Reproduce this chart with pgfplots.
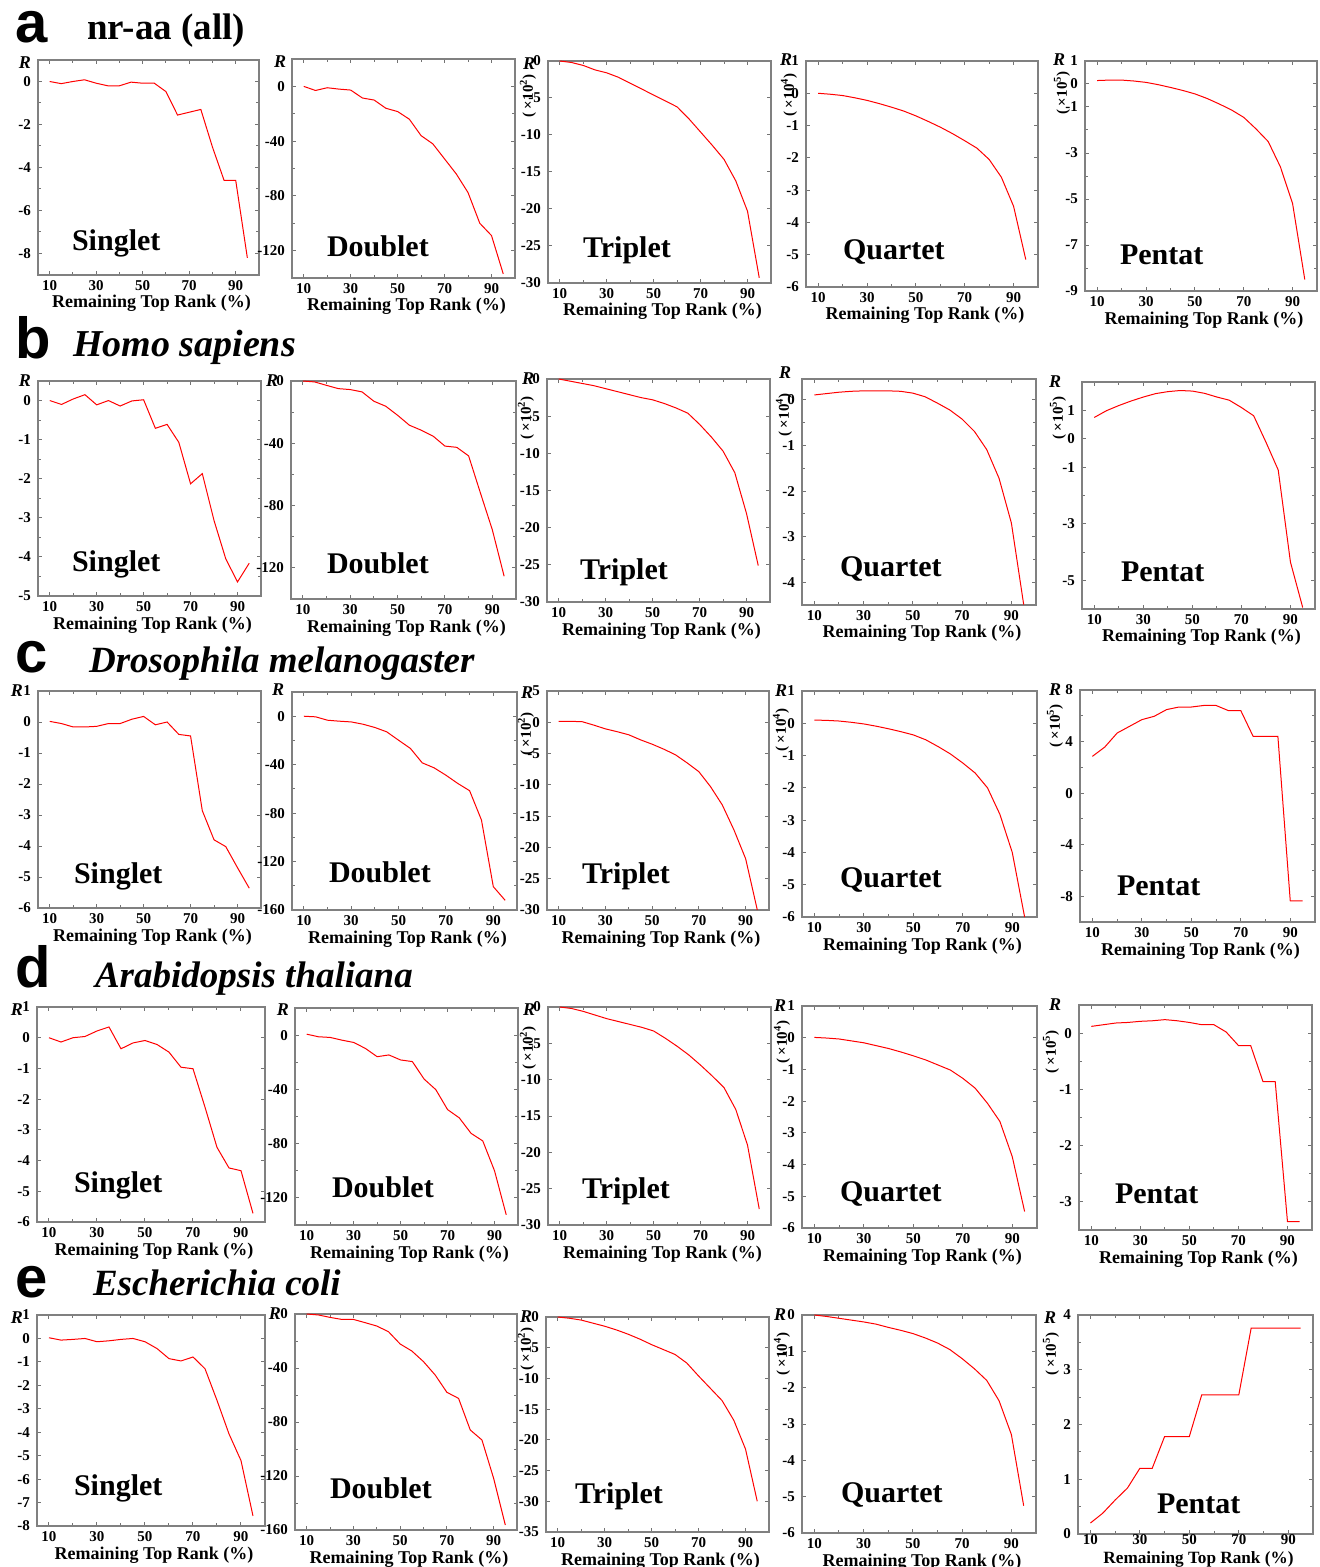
\documentclass[border=0pt]{standalone}
\usepackage{fontspec}
\setmainfont{Liberation Serif}
\newfontfamily\sanslab{Liberation Sans}
\usepackage{graphicx}
\usepackage{pgfplots}
\pgfplotsset{compat=1.18}
\usetikzlibrary{calc}

\newcommand\fs[1]{\fontsize{#1}{#1}\selectfont}
% R at top left of the y axis: #1 = shift left (pt), #2 = shift up (pt)
\newcommand\Rlab[2]{\node[font=\bfseries\itshape\fs{9}] at ($(rel axis cs:0,1)+(-#1pt,#2pt)$) {R};}
% scale note: #1 = shift left, #2 = distance below the top (pt), #3 = exponent
\newcommand\Xlab[3]{\node[font=\bfseries\fs{7.5},inner sep=0pt] at ($(rel axis cs:0,1)+(-#1pt,-#2pt)$) {\rotatebox{90}{( ×10\textsuperscript{#3})}};}
\newcommand\Name[3]{\node[font=\bfseries\fs{15},anchor=base west] at ($(rel axis cs:0,0)+(#2pt,#3pt)$) {#1};}
\newcommand\Xl[1][16.5]{\node[font=\bfseries\fs{9},anchor=base] at ($(rel axis cs:0.5,0)+(1.5pt,-#1pt)$) {Remaining Top Rank (\%)};}

\pgfplotsset{
  pan/.style={
    scale only axis, anchor=north west, clip=false,
    xmin=5, xmax=100, xtick={10,30,50,70,90}, minor x tick num=1,
    tick align=inside, major tick length=2pt, minor tick length=1.3pt,
    axis line style={draw=black!50, line width=0.7pt},
    every tick/.style={draw=black!55, line width=0.5pt},
    tick label style={font=\bfseries\fs{7.5}},
    xticklabel style={yshift=0.8pt},
    /pgf/number format/assume math mode=true,
    scaled y ticks=false,
  },
  ln/.style={red, line width=0.5pt, mark=none},
}

\begin{document}
\begin{tikzpicture}
\useasboundingbox (0,0) rectangle (659.5pt,-783.5pt);

% ---------------- row titles
\node[font=\sanslab\bfseries\fs{29},anchor=base west] at (4pt,-21.5pt) {a};
\node[font=\bfseries\fs{18.5},anchor=base west] at (40pt,-20pt) {nr-aa (all)};
\node[font=\sanslab\bfseries\fs{29},anchor=base west] at (4pt,-179pt) {b};
\node[font=\bfseries\itshape\fs{19},anchor=base west] at (33pt,-178.5pt) {Homo sapiens};
\node[font=\sanslab\bfseries\fs{29},anchor=base west] at (4pt,-336pt) {c};
\node[font=\bfseries\itshape\fs{18.5},anchor=base west] at (41pt,-336pt) {Drosophila melanogaster};
\node[font=\sanslab\bfseries\fs{29},anchor=base west] at (4pt,-493.5pt) {d};
\node[font=\bfseries\itshape\fs{18.5},anchor=base west] at (44pt,-493.5pt) {Arabidopsis thaliana};
\node[font=\sanslab\bfseries\fs{29},anchor=base west] at (4pt,-648.5pt) {e};
\node[font=\bfseries\itshape\fs{18.5},anchor=base west] at (43pt,-647.5pt) {Escherichia coli};

% ================= row a: nr-aa (all)
\begin{axis}[pan, at={(19pt,-30pt)}, width=110.5pt, height=107.5pt,
  ymin=-9, ymax=1, ytick={-8,-6,-4,-2,0}, minor y tick num=1]
\addplot[ln] coordinates {(10,0)(15,-0.1)(20,0)(25,0.08)(30,-0.08)(35,-0.2)(40,-0.2)(45,-0.03)(50,-0.08)(55,-0.08)(60,-0.47)(65,-1.56)(70,-1.43)(75,-1.3)(80,-3.05)(85,-4.6)(90,-4.6)(95,-8.2)};
\Rlab{6.5}{-1.5}\Name{Singlet}{13.5}{12}\Xl
\end{axis}
\begin{axis}[pan, at={(146pt,-29.5pt)}, width=111.5pt, height=109.5pt,
  ymin=-140, ymax=20, ytick={-120,-80,-40,0}, minor y tick num=1]
\addplot[ln] coordinates {(10,0)(15,-3)(20,-1)(25,-2)(30,-2.7)(35,-8.5)(40,-10)(45,-16)(50,-18.4)(55,-24)(60,-36)(65,-42)(70,-53)(75,-64)(80,-77.6)(85,-100)(90,-109)(95,-137)};
\Rlab{6}{-1.5}\Name{Doublet}{14}{10.5}\Xl
\end{axis}
\begin{axis}[pan, at={(274pt,-30.5pt)}, width=111.5pt, height=111pt,
  ymin=-30, ymax=0, ytick={-30,-25,-20,-15,-10,-5,0}]
\addplot[ln] coordinates {(10,0)(15,-0.2)(20,-0.6)(25,-1.2)(30,-1.6)(35,-2.2)(40,-3)(45,-3.8)(50,-4.6)(55,-5.4)(60,-6.2)(65,-7.8)(70,-9.6)(75,-11.4)(80,-13.3)(85,-16.2)(90,-20.3)(95,-29.3)};
\Rlab{9.5}{-1.5}\Xlab{10}{17.5}{2}\Name{Triplet}{14}{12.5}\Xl
\end{axis}
\begin{axis}[pan, at={(403pt,-30.5pt)}, width=116pt, height=113pt,
  ymin=-6, ymax=1, ytick={-6,-5,-4,-3,-2,-1,0,1}]
\addplot[ln] coordinates {(10,0)(15,-0.03)(20,-0.07)(25,-0.14)(30,-0.22)(35,-0.32)(40,-0.43)(45,-0.55)(50,-0.7)(55,-0.87)(60,-1.05)(65,-1.25)(70,-1.47)(75,-1.7)(80,-2.05)(85,-2.6)(90,-3.5)(95,-5.15)};
\Rlab{10}{0.5}\Xlab{8.5}{17}{4}\Name{Quartet}{15}{13.5}\Xl
\end{axis}
\begin{axis}[pan, at={(542.5pt,-30.5pt)}, width=116pt, height=115pt,
  ymin=-9, ymax=1, ytick={-9,-7,-5,-3,-1,0,1}, minor ytick={-8,-6,-4,-2}]
\addplot[ln] coordinates {(10,0.15)(15,0.17)(20,0.17)(25,0.13)(30,0.07)(35,-0.03)(40,-0.15)(45,-0.28)(50,-0.43)(55,-0.63)(60,-0.87)(65,-1.13)(70,-1.45)(75,-1.95)(80,-2.5)(85,-3.6)(90,-5.2)(95,-8.5)};
\Rlab{13}{0.5}\Xlab{11.5}{16}{5}\Name{Pentat}{14}{13.5}\Xl
\end{axis}

% ================= row b: Homo sapiens
\begin{axis}[pan, at={(19pt,-190.5pt)}, width=111.5pt, height=107.5pt,
  ymin=-5, ymax=0.5, ytick={-5,-4,-3,-2,-1,0}, minor y tick num=1]
\addplot[ln] coordinates {(10,0)(15,-0.1)(20,0.04)(25,0.15)(30,-0.11)(35,0)(40,-0.14)(45,-0.01)(50,0.02)(55,-0.71)(60,-0.61)(65,-1.07)(70,-2.13)(75,-1.87)(80,-3.07)(85,-4.05)(90,-4.64)(95,-4.16)};
\Rlab{6.5}{0}\Name{Singlet}{13.5}{12}\Xl
\end{axis}
\begin{axis}[pan, at={(145.5pt,-190.5pt)}, width=112.5pt, height=109pt,
  ymin=-140, ymax=0, ytick={-120,-80,-40,0}, minor y tick num=1]
\addplot[ln] coordinates {(10,0)(15,-0.6)(20,-2.8)(25,-4.9)(30,-5.5)(35,-7)(40,-13)(45,-16.2)(50,-22)(55,-28.4)(60,-31.6)(65,-35.4)(70,-41.8)(75,-42.6)(80,-48.1)(85,-72)(90,-95.5)(95,-125.4)};
\Rlab{9.5}{0}\Name{Doublet}{14.5}{13}\Xl
\end{axis}
\begin{axis}[pan, at={(273.5pt,-189.5pt)}, width=111.5pt, height=111.5pt,
  ymin=-30, ymax=0, ytick={-30,-25,-20,-15,-10,-5,0}]
\addplot[ln] coordinates {(10,0)(15,-0.3)(20,-0.6)(25,-0.9)(30,-1.3)(35,-1.7)(40,-2.1)(45,-2.5)(50,-2.8)(55,-3.3)(60,-3.9)(65,-4.6)(70,-6.1)(75,-7.8)(80,-9.7)(85,-12.6)(90,-18.1)(95,-25.1)};
\Rlab{9.5}{0}\Xlab{10.5}{19.5}{2}\Name{Triplet}{13}{11}\Xl
\end{axis}
\begin{axis}[pan, at={(401pt,-189.5pt)}, width=117pt, height=113pt,
  ymin=-4.5, ymax=0.46, ytick={-4,-3,-2,-1,0}, minor y tick num=1]
\addplot[ln] coordinates {(10,0.11)(15,0.14)(20,0.17)(25,0.19)(30,0.2)(35,0.2)(40,0.2)(45,0.19)(50,0.15)(55,0.07)(60,-0.07)(65,-0.22)(70,-0.42)(75,-0.69)(80,-1.09)(85,-1.72)(90,-2.7)(95,-4.49)};
\Rlab{8.5}{3}\Xlab{9}{18}{4}\Name{Quartet}{15.5}{14}\Xl
\end{axis}
\begin{axis}[pan, at={(541pt,-191pt)}, width=116.5pt, height=113.5pt,
  ymin=-6, ymax=2, ytick={-5,-3,-1,0,1}, minor ytick={-4,-2}]
\addplot[ln] coordinates {(10,0.75)(15,0.99)(20,1.17)(25,1.33)(30,1.47)(35,1.59)(40,1.66)(45,1.7)(50,1.68)(55,1.6)(60,1.47)(65,1.36)(70,1.1)(75,0.81)(80,-0.12)(85,-1.1)(90,-4.35)(95,-5.95)};
\Rlab{13.5}{0}\Xlab{12}{18}{5}\Name{Pentat}{16}{13.5}\Xl
\end{axis}

% ================= row c: Drosophila melanogaster
\begin{axis}[pan, at={(19pt,-345.5pt)}, width=111.5pt, height=108.5pt,
  ymin=-6, ymax=1, ytick={-6,-5,-4,-3,-2,-1,0,1}]
\addplot[ln] coordinates {(10,0.02)(15,-0.05)(20,-0.16)(25,-0.16)(30,-0.14)(35,-0.05)(40,-0.05)(45,0.09)(50,0.18)(55,-0.09)(60,0)(65,-0.4)(70,-0.45)(75,-2.86)(80,-3.8)(85,-4.02)(90,-4.7)(95,-5.36)};
\Rlab{10.5}{0}\Name{Singlet}{14.5}{12.5}\Xl
\end{axis}
\begin{axis}[pan, at={(146pt,-346pt)}, width=112.5pt, height=109pt,
  ymin=-160, ymax=20, ytick={-160,-120,-80,-40,0}, minor y tick num=1]
\addplot[ln] coordinates {(10,0)(15,-0.5)(20,-3.3)(25,-4.1)(30,-4.7)(35,-6.6)(40,-9.3)(45,-12.9)(50,-19.8)(55,-26.6)(60,-38.5)(65,-42.6)(70,-48.7)(75,-55.5)(80,-61.5)(85,-85.7)(90,-140.7)(95,-152)};
\Rlab{7}{1}\Name{Doublet}{15}{14}\Xl
\end{axis}
\begin{axis}[pan, at={(273.5pt,-345.5pt)}, width=111pt, height=109.5pt,
  ymin=-30, ymax=5, ytick={-30,-25,-20,-15,-10,-5,0,5}]
\addplot[ln] coordinates {(10,0.15)(15,0.15)(20,0.1)(25,-0.45)(30,-1.05)(35,-1.5)(40,-2)(45,-2.8)(50,-3.5)(55,-4.3)(60,-5.2)(65,-6.5)(70,-7.9)(75,-10.3)(80,-13.2)(85,-17.2)(90,-21.8)(95,-30)};
\Rlab{10}{-1}\Xlab{10.5}{21.5}{2}\Name{Triplet}{14}{13.5}\Xl
\end{axis}
\begin{axis}[pan, at={(401pt,-345.5pt)}, width=117.5pt, height=113pt,
  ymin=-6, ymax=1, ytick={-6,-5,-4,-3,-2,-1,0,1}]
\addplot[ln] coordinates {(10,0.1)(15,0.09)(20,0.07)(25,0.03)(30,-0.02)(35,-0.09)(40,-0.17)(45,-0.26)(50,-0.36)(55,-0.51)(60,-0.72)(65,-0.95)(70,-1.23)(75,-1.54)(80,-2)(85,-2.82)(90,-4)(95,-6)};
\Rlab{10.5}{0}\Xlab{10.5}{19.5}{4}\Name{Quartet}{15.5}{15}\Xl
\end{axis}
\begin{axis}[pan, at={(540pt,-345pt)}, width=117.5pt, height=116pt,
  ymin=-10, ymax=8, ytick={-8,-4,0,4,8}, minor y tick num=1]
\addplot[ln] coordinates {(10,2.85)(15,3.57)(20,4.66)(25,5.18)(30,5.7)(35,5.96)(40,6.48)(45,6.68)(50,6.68)(55,6.8)(60,6.8)(65,6.4)(70,6.4)(75,4.4)(80,4.4)(85,4.4)(90,-8.36)(95,-8.36)};
\Rlab{12.5}{0}\Xlab{12.5}{18}{5}\Name{Pentat}{15}{13.5}\Xl
\end{axis}

% ================= row d: Arabidopsis thaliana
\begin{axis}[pan, at={(18.5pt,-503.5pt)}, width=114pt, height=107.5pt,
  ymin=-6, ymax=1, ytick={-6,-5,-4,-3,-2,-1,0,1}]
\addplot[ln] coordinates {(10,0)(15,-0.14)(20,0)(25,0.04)(30,0.22)(35,0.35)(40,-0.36)(45,-0.17)(50,-0.09)(55,-0.22)(60,-0.47)(65,-0.96)(70,-1.01)(75,-2.26)(80,-3.57)(85,-4.24)(90,-4.33)(95,-5.72)};
\Rlab{10}{-1.5}\Name{Singlet}{15}{15}\Xl
\end{axis}
\begin{axis}[pan, at={(147.5pt,-504pt)}, width=111.5pt, height=108.5pt,
  ymin=-140, ymax=20, ytick={-120,-80,-40,0}, minor y tick num=1]
\addplot[ln] coordinates {(10,0.7)(15,-1.2)(20,-1.7)(25,-3.7)(30,-5.4)(35,-9.8)(40,-15.9)(45,-14.6)(50,-18.3)(55,-19.5)(60,-32.4)(65,-40.2)(70,-54.9)(75,-61)(80,-72.4)(85,-78)(90,-100)(95,-132.5)};
\Rlab{6}{-1}\Name{Doublet}{15}{14}\Xl
\end{axis}
\begin{axis}[pan, at={(274pt,-503.5pt)}, width=111.5pt, height=109pt,
  ymin=-30, ymax=0, ytick={-30,-25,-20,-15,-10,-5,0}]
\addplot[ln] coordinates {(10,0)(15,-0.2)(20,-0.6)(25,-1.1)(30,-1.6)(35,-2)(40,-2.4)(45,-2.8)(50,-3.3)(55,-4.3)(60,-5.4)(65,-6.6)(70,-8)(75,-9.5)(80,-11.1)(85,-14.1)(90,-19)(95,-27.8)};
\Rlab{9.5}{-1.5}\Xlab{10}{20.5}{2}\Name{Triplet}{13.5}{13.5}\Xl
\end{axis}
\begin{axis}[pan, at={(401pt,-503pt)}, width=117.5pt, height=111pt,
  ymin=-6, ymax=1, ytick={-6,-5,-4,-3,-2,-1,0,1}]
\addplot[ln] coordinates {(10,0.01)(15,-0.01)(20,-0.04)(25,-0.1)(30,-0.16)(35,-0.25)(40,-0.34)(45,-0.45)(50,-0.57)(55,-0.7)(60,-0.86)(65,-1.02)(70,-1.28)(75,-1.59)(80,-2.07)(85,-2.64)(90,-3.75)(95,-5.48)};
\Rlab{11}{0}\Xlab{10}{18}{4}\Name{Quartet}{15.5}{13.5}\Xl
\end{axis}
\begin{axis}[pan, at={(539.5pt,-502.5pt)}, width=116.5pt, height=112.5pt,
  ymin=-3.5, ymax=0.5, ytick={-3,-2,-1,0}, minor y tick num=1]
\addplot[ln] coordinates {(10,0.12)(15,0.15)(20,0.18)(25,0.19)(30,0.21)(35,0.22)(40,0.24)(45,0.22)(50,0.19)(55,0.15)(60,0.15)(65,0.02)(70,-0.22)(75,-0.22)(80,-0.86)(85,-0.86)(90,-3.35)(95,-3.35)};
\Rlab{12}{0}\Xlab{14}{23.5}{5}\Name{Pentat}{14.5}{13.5}\Xl
\end{axis}

% ================= row e: Escherichia coli
\begin{axis}[pan, at={(18.5pt,-657.5pt)}, width=114pt, height=105.5pt,
  ymin=-8, ymax=1, ytick={-8,-7,-6,-5,-4,-3,-2,-1,0,1}]
\addplot[ln] coordinates {(10,0.03)(15,-0.07)(20,-0.04)(25,0)(30,-0.14)(35,-0.1)(40,-0.04)(45,0)(50,-0.14)(55,-0.43)(60,-0.86)(65,-0.96)(70,-0.79)(75,-1.29)(80,-2.64)(85,-4.07)(90,-5.21)(95,-7.57)};
\Rlab{10}{-1.5}\Name{Singlet}{15}{15.5}\Xl
\end{axis}
\begin{axis}[pan, at={(147.5pt,-657pt)}, width=111pt, height=108pt,
  ymin=-160, ymax=0, ytick={-160,-120,-80,-40,0}, minor y tick num=1]
\addplot[ln] coordinates {(10,0)(15,-0.7)(20,-2.5)(25,-4)(30,-4)(35,-6.4)(40,-8.9)(45,-13.1)(50,-22.2)(55,-27.4)(60,-35.3)(65,-45.2)(70,-58)(75,-62.5)(80,-85.9)(85,-93.3)(90,-121.7)(95,-156.3)};
\Rlab{10}{0}\Name{Doublet}{14}{16}\Xl
\end{axis}
\begin{axis}[pan, at={(273pt,-658.5pt)}, width=111.5pt, height=107.5pt,
  ymin=-35, ymax=0, ytick={-35,-30,-25,-20,-15,-10,-5,0}]
\addplot[ln] coordinates {(10,0)(15,-0.2)(20,-0.5)(25,-1)(30,-1.5)(35,-2.1)(40,-2.8)(45,-3.6)(50,-4.5)(55,-5.3)(60,-6.1)(65,-7.5)(70,-9.6)(75,-11.6)(80,-13.6)(85,-16.8)(90,-21.5)(95,-30)};
\Rlab{10}{0}\Xlab{10}{16}{2}\Name{Triplet}{11}{14.5}\Xl
\end{axis}
\begin{axis}[pan, at={(401pt,-657.5pt)}, width=117pt, height=109pt,
  ymin=-6, ymax=0, ytick={-6,-5,-4,-3,-2,-1,0}]
\addplot[ln] coordinates {(10,0)(15,-0.04)(20,-0.09)(25,-0.14)(30,-0.19)(35,-0.25)(40,-0.34)(45,-0.42)(50,-0.51)(55,-0.63)(60,-0.77)(65,-0.95)(70,-1.2)(75,-1.48)(80,-1.8)(85,-2.36)(90,-3.29)(95,-5.25)};
\Rlab{11}{0}\Xlab{10}{19.5}{4}\Name{Quartet}{16}{15.5}\Xl
\end{axis}
\begin{axis}[pan, at={(539pt,-657.5pt)}, width=117.5pt, height=109.5pt,
  ymin=0, ymax=4, ytick={0,1,2,3,4}, minor y tick num=1,
  xticklabel style={yshift=2.4pt}]
\addplot[ln] coordinates {(10,0.2)(15,0.38)(20,0.62)(25,0.84)(30,1.2)(35,1.2)(40,1.78)(45,1.78)(50,1.78)(55,2.54)(60,2.54)(65,2.54)(70,2.54)(75,3.76)(80,3.76)(85,3.76)(90,3.76)(95,3.76)};
\Rlab{14}{-1.5}\Xlab{13.5}{19.5}{5}\Name{Pentat}{36}{10.5}
\node[font=\bfseries\fs{8.6},anchor=base] at ($(rel axis cs:0.5,0)+(1.5pt,-14.6pt)$) {Remaining Top Rank (\%)};
\end{axis}
\end{tikzpicture}
\end{document}
